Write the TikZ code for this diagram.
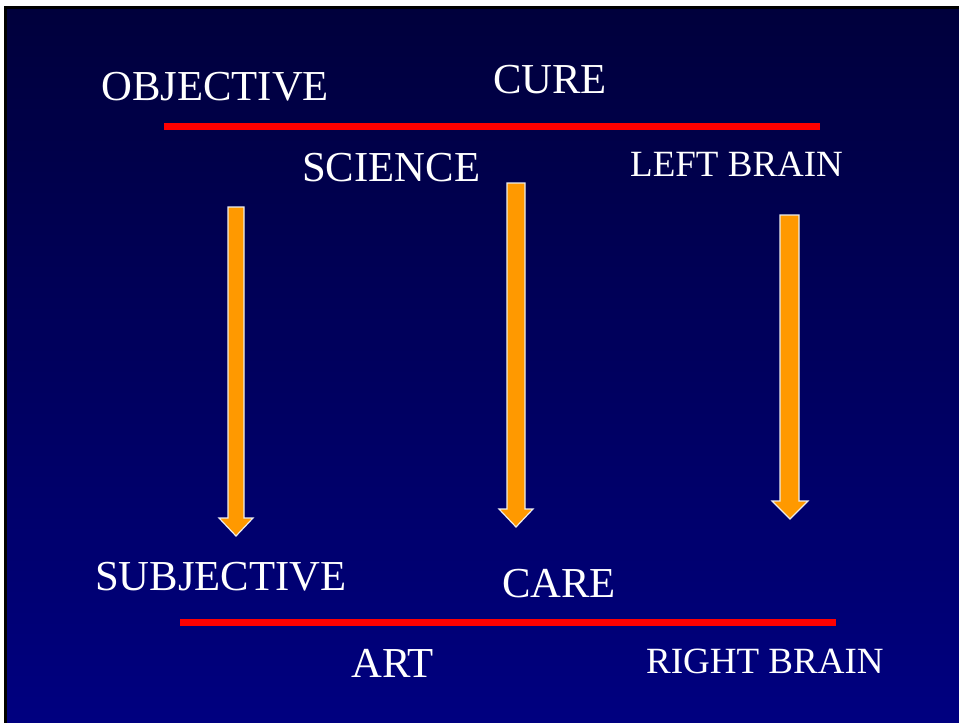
\documentclass[tikz,border=0pt]{standalone}
\usepackage{fontspec}
\setmainfont{Liberation Serif}
\definecolor{navytop}{RGB}{0,0,60}
\definecolor{navybot}{RGB}{0,0,128}
\definecolor{arroworange}{RGB}{255,153,0}
\definecolor{barred}{RGB}{255,0,0}
\begin{document}
\begin{tikzpicture}[x=1pt,y=-1pt,
  lbl/.style={anchor=base west,inner sep=0pt,text=white,font=\fontsize{42.7}{48}\selectfont},
  lblsmall/.style={anchor=base west,inner sep=0pt,text=white,font=\fontsize{37}{42}\selectfont},
  bar/.style={draw=none,fill=barred},
  downarrow/.style={fill=arroworange,draw=white!85!gray,line width=1.2pt,line join=miter}]
\useasboundingbox (0,0) rectangle (959,723);
\fill[white] (0,0) rectangle (959,723);
\fill[black] (4,6) rectangle (959,723);
\shade[top color=navytop,bottom color=navybot] (7,9) rectangle (959,723);
% labels
\node[lbl] (objective) at (101,100) {OBJECTIVE};
\node[lbl] (cure) at (493,93) {CURE};
\node[lbl] (science) at (302,181) {SCIENCE};
\node[lblsmall] (leftbrain) at (630,176) {LEFT BRAIN};
\node[lbl] (subjective) at (95,590) {SUBJECTIVE};
\node[lbl] (care) at (502,597) {CARE};
\node[lbl] (art) at (351,677) {ART};
\node[lblsmall] (rightbrain) at (646,673) {RIGHT BRAIN};
% red bars
\fill[bar] (164,123) rectangle (820,130);
\fill[bar] (180,619) rectangle (836,626);
% arrows
\draw[downarrow] (228,207) -- (244,207) -- (244,518) -- (253,518) -- (236,536) -- (219,518) -- (228,518) -- cycle;
\draw[downarrow] (507,183) -- (525,183) -- (525,509) -- (533,509) -- (516,527) -- (499,509) -- (507,509) -- cycle;
\draw[downarrow] (780,215) -- (799,215) -- (799,501) -- (808,501) -- (790,519) -- (772,501) -- (780,501) -- cycle;
\end{tikzpicture}
\end{document}
